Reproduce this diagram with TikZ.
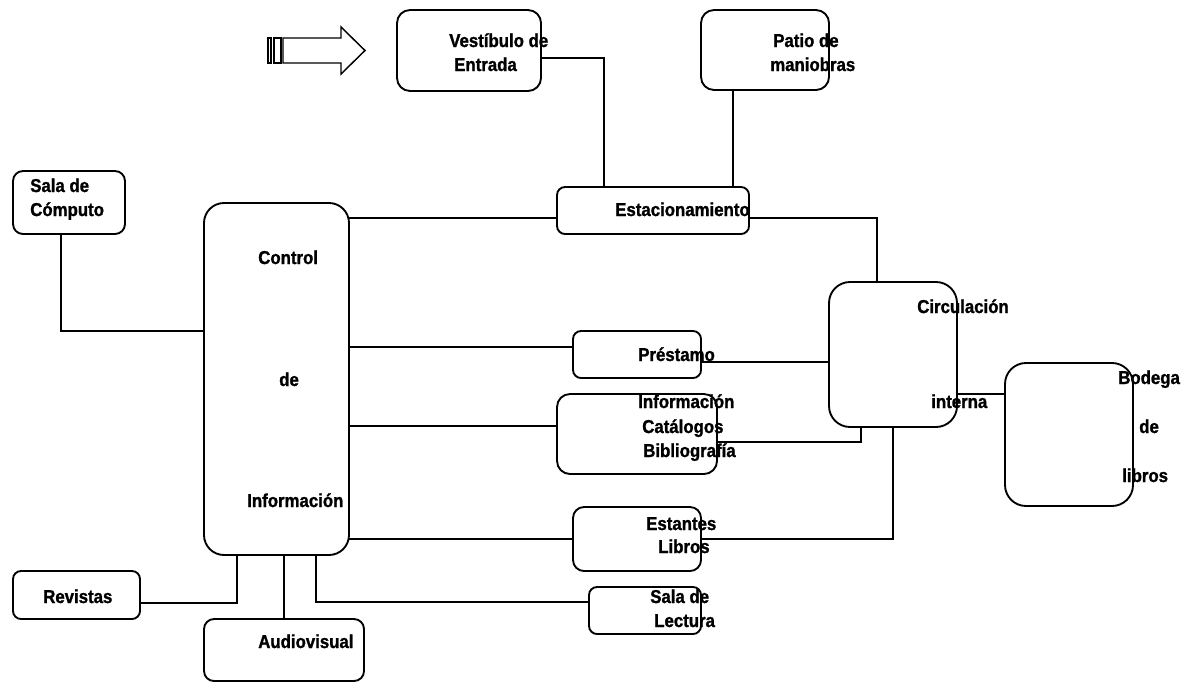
\documentclass[tikz,border=0pt]{standalone}
\usepackage{fontspec}
\setmainfont{Liberation Sans}[FakeStretch=0.9,BoldFeatures={FakeBold=1.3}]
\usetikzlibrary{calc}

\tikzstyle{room}=[draw,line width=1.4pt,inner sep=0pt,outer sep=0pt]
\tikzstyle{room label}=[anchor=base west,inner sep=0pt,font=\fontsize{14}{17}\selectfont\bfseries]
\tikzstyle{link}=[draw,line width=1.3pt]
\tikzstyle{entry arrow}=[draw,line width=1.1pt,line join=miter]

\begin{document}
\begin{tikzpicture}[x=0.75pt,y=-0.75pt]
    \useasboundingbox (0,0) rectangle (1184,682);
    % Draw the rooms
    \foreach \pos/\name/\w/\h/\r in {
        {(469,50.5)/vest/144/81/13},{(765,50)/patio/128/80/13},
        {(653,210.5)/estac/192/47/8},{(69,202.5)/computo/112/63/10},
        {(276.5,379)/control/145/352/20},{(76.5,595)/revistas/127/48/8},
        {(284,650)/audio/160/62/10},{(637,354.5)/prestamo/128/47/8},
        {(637,434)/info/160/80/13},{(637,539)/estantes/128/64/11},
        {(645,610.5)/lectura/112/47/8},{(893,354.5)/circ/128/145/21},
        {(1069,434.5)/bodega/128/143/21}}
    \node[room,minimum width=\w*0.75pt,minimum height=\h*0.75pt,rounded corners=\r*0.75pt] (\name) at \pos {};
    % Then the texts, line by line
    \foreach \pos/\name/\txt in {
        {(449,47)/vest-1/Vestíbulo de},{(454,71)/vest-2/Entrada},
        {(773,47)/patio-1/Patio de},{(770,71)/patio-2/maniobras},
        {(615,216)/estac-1/Estacionamiento},
        {(30,192)/computo-1/Sala de},{(30,216)/computo-2/Cómputo},
        {(258,264)/control-1/Control},{(279,386)/control-2/de},{(247,507)/control-3/Información},
        {(43,603)/revistas-1/Revistas},{(258,648)/audio-1/Audiovisual},
        {(638,361)/prestamo-1/Préstamo},
        {(638,408)/info-1/Información},{(642,433)/info-2/Catálogos},{(643,457)/info-3/Bibliografía},
        {(646,530)/estantes-1/Estantes},{(658,553)/estantes-2/Libros},
        {(650,603)/lectura-1/Sala de},{(654,627)/lectura-2/Lectura},
        {(917,313)/circ-1/Circulación},{(931,408)/circ-2/interna},
        {(1118,384)/bodega-1/Bodega},{(1139,433)/bodega-2/de},{(1122,482)/bodega-3/libros}}
    \node[room label] (\name) at \pos {\txt};
    % Entrance arrow
    \draw[entry arrow] (268,38) rectangle (271,63);
    \draw[entry arrow] (274,38) rectangle (281,63);
    \draw[entry arrow] (283,38) -- (341,38) -- (341,27) -- (365,50.5) -- (341,74) -- (341,63) -- (283,63) -- cycle;
    % Connect rooms
    \path[link] ($(vest.east)+(0,7.5)$) -| ($(estac.north)+(-49,0)$);
    \path[link] ($(patio.south)+(-32,0)$) -- ($(estac.north)+(80,0)$);
    \path[link] ($(control.east)+(0,-161)$) -- ($(estac.west)+(0,7.5)$);
    \path[link] ($(estac.east)+(0,7.5)$) -| ($(circ.north)+(-16,0)$);
    \path[link] ($(computo.south)+(-8,0)$) |- ($(control.west)+(0,-48)$);
    \path[link] ($(control.east)+(0,-32)$) -- ($(prestamo.west)+(0,-7.5)$);
    \path[link] ($(prestamo.east)+(0,7.5)$) -- ($(circ.west)+(0,7.5)$);
    \path[link] ($(control.east)+(0,47)$) -- ($(info.west)+(0,-8)$);
    \path[link] ($(info.east)+(0,8)$) -| ($(circ.south)+(-32,0)$);
    \path[link] (control.east |- estantes.west) -- (estantes.west);
    \path[link] (estantes.east) -| (circ.south);
    \path[link] ($(circ.east)+(0,39.5)$) -- ($(bodega.west)+(0,-40.5)$);
    \path[link] ($(control.south)+(-39.5,0)$) |- ($(revistas.east)+(0,8)$);
    \path[link] ($(control.south)+(7.5,0)$) -- (audio.north);
    \path[link] ($(control.south)+(39.5,0)$) |- ($(lectura.west)+(0,-8.5)$);
\end{tikzpicture}
\end{document}
